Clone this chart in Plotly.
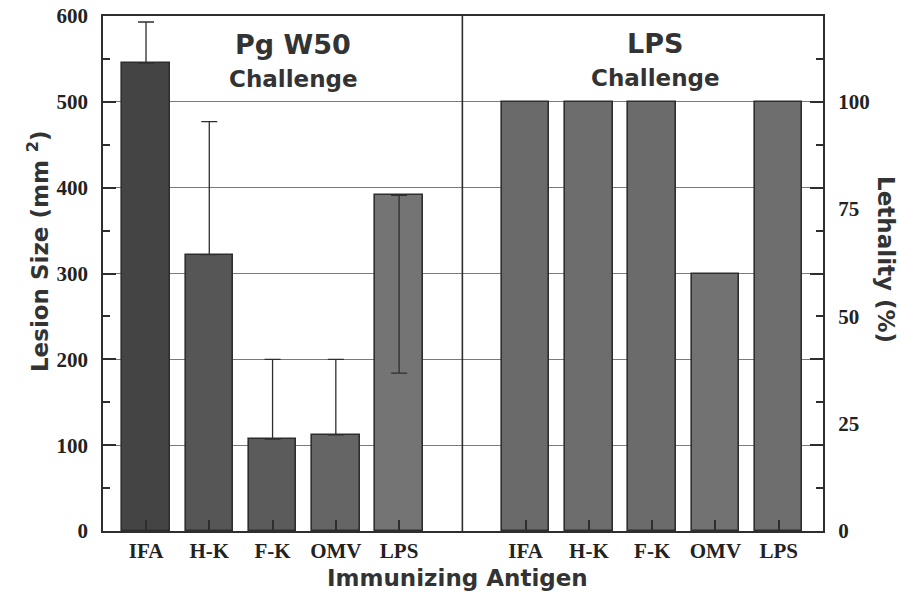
import plotly.graph_objects as go

# ---- data ----
antigens = ["IFA", "H-K", "F-K", "OMV", "LPS"]
lesion_size = [545, 322, 107, 112, 391]          # mm^2, Pg W50 challenge
lesion_err_plus = [48, 155, 93, 88, 0]
lesion_err_minus = [0, 0, 0, 0, 207]
lethality = [100, 100, 100, 60, 100]             # %, LPS challenge

left_y_ticks = [0, 100, 200, 300, 400, 500, 600]
right_y_ticks = [0, 25, 50, 75, 100]

# ---- positions (group 1 at 0..4, group 2 after a one-slot gap) ----
n = len(antigens)
x_left = list(range(n))
x_right = [i + n + 1 for i in range(n)]

left_colors = ["#444444", "#565656", "#5b5b5b", "#656565", "#747474"]
right_colors = ["#6a6a6a", "#6d6d6d", "#6b6b6b", "#727272", "#6e6e6e"]

SERIF = "Liberation Serif"
SANS = "DejaVu Sans"
INK = "#2e2e2e"
tick_font = dict(family=SERIF, size=21, color="#222", weight="bold")

fig = go.Figure()

fig.add_trace(go.Bar(
    x=x_left, y=lesion_size, width=0.75,
    marker=dict(color=left_colors, line=dict(color=INK, width=1.6)),
    error_y=dict(type="data", symmetric=False, array=lesion_err_plus,
                 arrayminus=lesion_err_minus, color=INK, thickness=1.3, width=8),
    yaxis="y", showlegend=False,
))

fig.add_trace(go.Bar(
    x=x_right, y=lethality, width=0.75,
    marker=dict(color=right_colors, line=dict(color=INK, width=1.6)),
    yaxis="y2", showlegend=False,
))

fig.update_layout(
    width=901, height=598,
    margin=dict(l=103, r=78, t=16, b=67, autoexpand=False),
    paper_bgcolor="white", plot_bgcolor="white",
    bargap=0,
    xaxis=dict(
        range=[-0.68, 10.70], automargin=False,
        tickvals=x_left + x_right,
        ticktext=antigens + antigens,
        ticks="inside", ticklen=11, tickwidth=2, tickcolor=INK,
        ticklabelstandoff=0,
        tickfont=tick_font,
        showline=True, linecolor=INK, linewidth=1.6, mirror=True,
        showgrid=False, zeroline=False,
    ),
    yaxis=dict(
        range=[0, 600], automargin=False,
        tickvals=left_y_ticks,
        ticks="inside", ticklen=13, tickwidth=1.5, tickcolor=INK,
        minor=dict(dtick=50, ticks="inside", ticklen=7, tickwidth=1.5,
                   tickcolor=INK, showgrid=False),
        ticklabelstandoff=9,
        tickfont=tick_font,
        showline=True, linecolor=INK, linewidth=1.6, mirror="ticks",
        showgrid=True, gridcolor="#7a7a7a", gridwidth=1,
        zeroline=False,
    ),
    yaxis2=dict(
        range=[0, 120], overlaying="y", side="right", automargin=False,
        tickvals=right_y_ticks,
        ticks="outside", ticklen=4, tickcolor="rgba(0,0,0,0)",
        ticklabelstandoff=6,
        tickfont=tick_font,
        showline=False, showgrid=False, zeroline=False,
    ),
)

# divider between the two panels
fig.add_shape(type="line", xref="x", yref="paper",
              x0=n, x1=n, y0=0, y1=1,
              line=dict(color=INK, width=1.6))

ann_font = dict(family=SANS, color="#333")
annotations = [
    dict(text="<b>Pg W50</b>", x=0.264, y=0.944, size=27),
    dict(text="<b>Challenge</b>", x=0.264, y=0.878, size=23),
    dict(text="<b>LPS</b>", x=0.767, y=0.946, size=27),
    dict(text="<b>Challenge</b>", x=0.768, y=0.880, size=23),
]
for a in annotations:
    fig.add_annotation(text=a["text"], x=a["x"], y=a["y"], xref="paper", yref="paper",
                       xanchor="center", yanchor="middle", showarrow=False,
                       font=dict(ann_font, size=a["size"]))

fig.add_annotation(text="<b>Immunizing Antigen</b>", x=0.492, y=-0.091,
                   xref="paper", yref="paper", xanchor="center", yanchor="middle",
                   showarrow=False, font=dict(ann_font, size=23))
fig.add_annotation(text="<b>Lesion Size (mm <sup>2</sup>)</b>", x=-0.090, y=0.544,
                   xref="paper", yref="paper", xanchor="center", yanchor="middle",
                   textangle=-90, showarrow=False, font=dict(ann_font, size=23))
fig.add_annotation(text="<b>Lethality (%)</b>", x=1.0875, y=0.526,
                   xref="paper", yref="paper", xanchor="center", yanchor="middle",
                   textangle=90, showarrow=False, font=dict(ann_font, size=23))

fig.write_html("out.html")
